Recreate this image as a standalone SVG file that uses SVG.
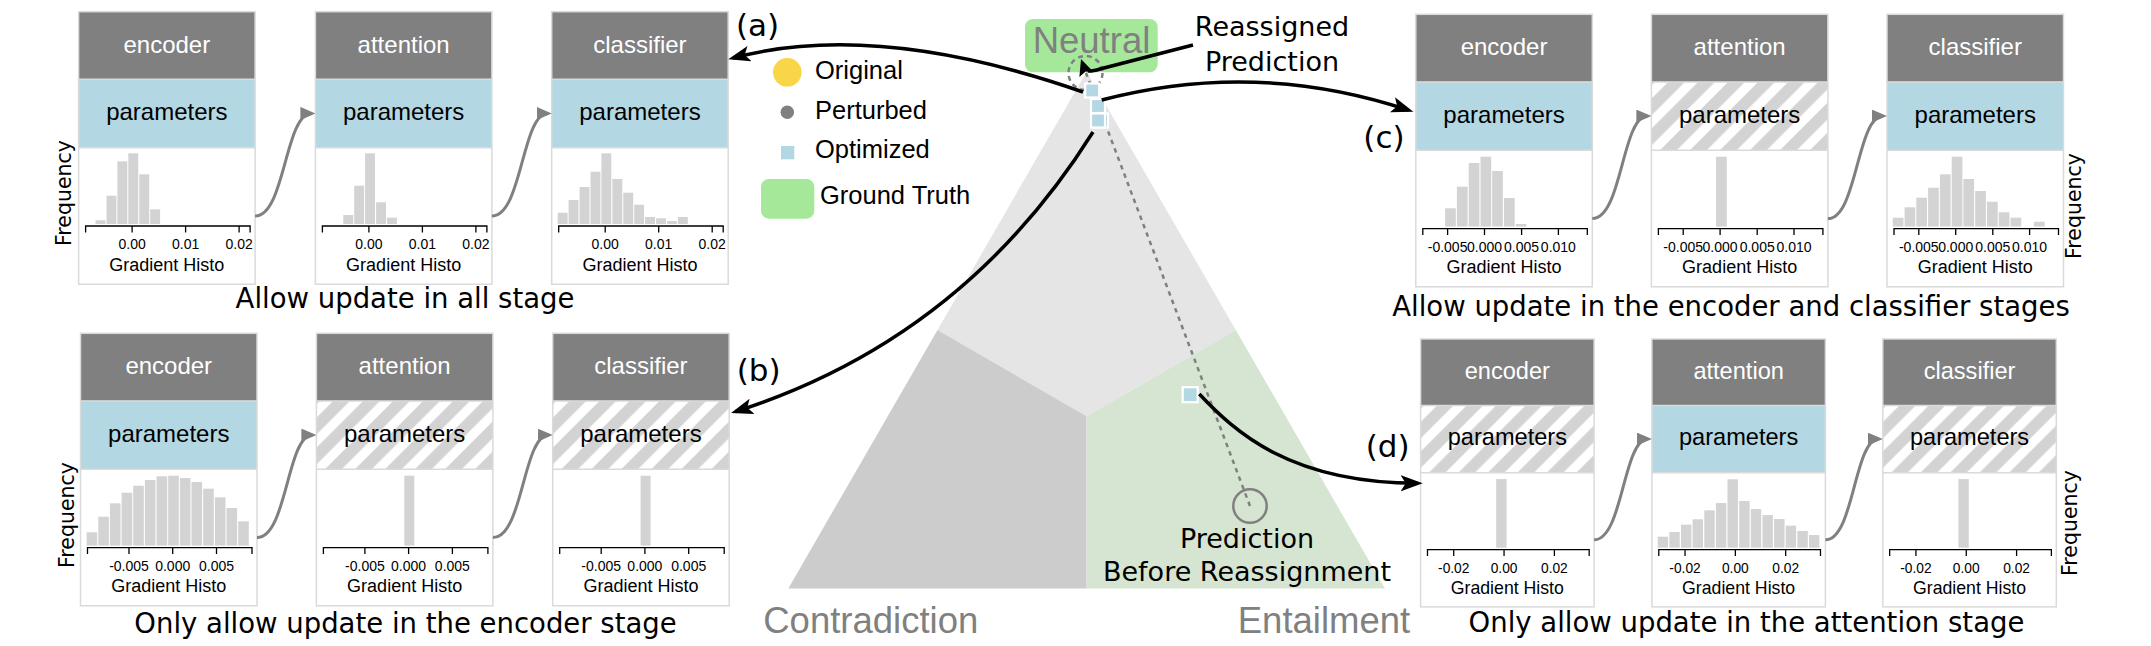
<svg xmlns="http://www.w3.org/2000/svg" width="2151" height="646" viewBox="0 0 2151 646">
<defs>
<style>
.hdr{fill:#808080}
.par{fill:#b3d7e3}
.hat{fill:url(#hatch)}
.hist{fill:#fff}
.frame{fill:none;stroke:#dadada;stroke-width:1.5}
.sep{stroke:#dadada;stroke-width:1.5}
.ht{font-family:"Liberation Sans",Arial,sans-serif;font-size:24px;fill:#fff;text-anchor:middle}
.pt{font-family:"Liberation Sans",Arial,sans-serif;font-size:24px;fill:#000;text-anchor:middle}
.bar{fill:#d3d3d3}
.ax{fill:none;stroke:#000;stroke-width:1.3}
.tl{font-family:"Liberation Sans",Arial,sans-serif;font-size:14px;fill:#000;text-anchor:middle}
.gh{font-family:"Liberation Sans",Arial,sans-serif;font-size:18px;fill:#000;text-anchor:middle}
.cap{font-family:"DejaVu Sans",sans-serif;font-size:27.5px;fill:#000;text-anchor:middle}
.freq{font-family:"DejaVu Sans",sans-serif;font-size:20.5px;fill:#000;text-anchor:middle}
.lab{font-family:"DejaVu Sans",sans-serif;font-size:31px;fill:#000}
.big{font-family:"Liberation Sans",Arial,sans-serif;font-size:36.5px;fill:#808080}
.leg{font-family:"Liberation Sans",Arial,sans-serif;font-size:25.5px;fill:#000}
.ann{font-family:"DejaVu Sans",sans-serif;font-size:27px;fill:#000;text-anchor:middle}
.conn{fill:none;stroke:#808080;stroke-width:3}
.arr{fill:none;stroke:#000;stroke-width:3.5}
.opt{fill:#b3d7e3;stroke:#fff;stroke-width:2.2}
</style>
<pattern id="hatch" patternUnits="userSpaceOnUse" width="21.21" height="21.21" patternTransform="rotate(45)">
<rect width="21.21" height="21.21" fill="#fff"/>
<rect x="17.32" width="3.89" height="21.21" fill="#d3d3d3"/>
<rect x="0" width="7.92" height="21.21" fill="#d3d3d3"/>
</pattern>
<marker id="ga" markerUnits="userSpaceOnUse" markerWidth="16" markerHeight="14" refX="11" refY="6.5" orient="auto">
<path d="M0,0L15,6.5L0,13z" fill="#808080"/>
</marker>
<marker id="ba" markerUnits="userSpaceOnUse" markerWidth="24" markerHeight="17" refX="17" refY="8" orient="auto">
<path d="M0,0L22,8L0,16L5,8z" fill="#000"/>
</marker>
</defs>

<rect width="2151" height="646" fill="#fff"/>

<!-- simplex triangle -->
<g id="triangle">
<polygon points="1086.65,71.7 1235.8,330.1 1086.65,416.2 937.5,330.1" fill="#e5e5e5"/>
<polygon points="937.5,330.1 1086.65,416.2 1086.65,588.5 788.3,588.5" fill="#cccccc"/>
<polygon points="1235.8,330.1 1385,588.5 1086.65,588.5 1086.65,416.2" fill="#d6e5d2"/>
</g>
<g id="label-neutral">
<rect x="1025" y="19" width="132.7" height="53.3" rx="8" fill="#a5e89a"/>
<text class="big" x="1091.5" y="53.3" text-anchor="middle">Neutral</text>
</g>
<text id="label-contradiction" class="big" x="870.8" y="633.3" text-anchor="middle">Contradiction</text>
<text id="label-entailment" class="big" x="1324" y="633.3" text-anchor="middle">Entailment</text>

<!-- prediction markers -->
<g id="trajectory">
<path d="M1250,506L1086,73" fill="none" stroke="#808080" stroke-width="2.5" stroke-dasharray="4.5,4.5"/>
</g>
<g id="original-position">
<circle cx="1085.5" cy="73" r="17" fill="none" stroke="#808080" stroke-width="2.5" stroke-dasharray="5,4"/>
</g>
<g id="before-reassignment">
<circle cx="1250" cy="506" r="16.7" fill="none" stroke="#808080" stroke-width="2.5"/>
<text class="ann" x="1247" y="548">Prediction</text>
<text class="ann" x="1247" y="580.7">Before Reassignment</text>
</g>
<g id="optimized-points">
<rect class="opt" x="1091" y="99" width="14" height="14"/>
<rect class="opt" x="1094" y="113.5" width="14" height="14"/>
<rect class="opt" x="1091" y="113.5" width="14" height="14"/>
<rect class="opt" x="1085.2" y="83.5" width="14" height="14"/>
<rect class="opt" x="1182.7" y="387.2" width="15" height="15" stroke-width="2.5"/>
</g>

<!-- legend -->
<g id="legend">
<circle cx="787.3" cy="72.3" r="14.3" fill="#f9d548"/>
<text class="leg" x="815" y="79.3">Original</text>
<circle cx="787.3" cy="112.3" r="6.7" fill="#808080"/>
<text class="leg" x="815" y="119">Perturbed</text>
<rect x="781" y="146" width="13.3" height="13.3" fill="#b3d7e3"/>
<text class="leg" x="815" y="158.3">Optimized</text>
<rect x="761" y="179" width="53.3" height="39.7" rx="8" fill="#a5e89a"/>
<text class="leg" x="820" y="204">Ground Truth</text>
</g>

<g id="annotation-reassigned">
<text class="ann" x="1272" y="35.5">Reassigned</text>
<text class="ann" x="1272" y="70.5">Prediction</text>
</g>

<!-- row (a) -->
<g id="card-a1" transform="translate(78.6,11.7)">
<rect class="hdr" width="176.5" height="67.6"/>
<rect class="par" y="67.6" width="176.5" height="68.4"/>
<rect class="hist" y="136" width="176.5" height="136.5"/>
<rect class="frame" width="176.5" height="272.5"/>
<line class="sep" x1="0" y1="67.6" x2="176.5" y2="67.6"/>
<line class="sep" x1="0" y1="136" x2="176.5" y2="136"/>
<text class="ht" x="88.25" y="41">encoder</text>
<text class="pt" x="88.25" y="108.3">parameters</text>
<rect class="bar" x="16.9" y="208.6" width="9.9" height="3.7"/>
<rect class="bar" x="27.9" y="184" width="9.9" height="28.3"/>
<rect class="bar" x="38.8" y="149.6" width="9.9" height="62.7"/>
<rect class="bar" x="49.7" y="141.6" width="9.9" height="70.7"/>
<rect class="bar" x="60.7" y="162.6" width="9.9" height="49.7"/>
<rect class="bar" x="71.6" y="197.6" width="9.9" height="14.7"/>
<path class="ax" d="M7,220.8V214.3H171.5V220.8M53.5,214.3V220.8M107,214.3V220.8M160.5,214.3V220.8"/>
<text class="tl" x="53.5" y="237.6">0.00</text>
<text class="tl" x="107" y="237.6">0.01</text>
<text class="tl" x="160.5" y="237.6">0.02</text>
<text class="gh" x="88.25" y="259">Gradient Histo</text>
</g>
<g id="card-a2" transform="translate(315.4,11.7)">
<rect class="hdr" width="176.5" height="67.6"/>
<rect class="par" y="67.6" width="176.5" height="68.4"/>
<rect class="hist" y="136" width="176.5" height="136.5"/>
<rect class="frame" width="176.5" height="272.5"/>
<line class="sep" x1="0" y1="67.6" x2="176.5" y2="67.6"/>
<line class="sep" x1="0" y1="136" x2="176.5" y2="136"/>
<text class="ht" x="88.25" y="41">attention</text>
<text class="pt" x="88.25" y="108.3">parameters</text>
<rect class="bar" x="27.9" y="203.3" width="9.9" height="9"/>
<rect class="bar" x="38.8" y="174" width="9.9" height="38.3"/>
<rect class="bar" x="49.7" y="141.6" width="9.9" height="70.7"/>
<rect class="bar" x="60.7" y="190.6" width="9.9" height="21.7"/>
<rect class="bar" x="71.6" y="206" width="9.9" height="6.3"/>
<path class="ax" d="M7,220.8V214.3H171.5V220.8M53.5,214.3V220.8M107,214.3V220.8M160.5,214.3V220.8"/>
<text class="tl" x="53.5" y="237.6">0.00</text>
<text class="tl" x="107" y="237.6">0.01</text>
<text class="tl" x="160.5" y="237.6">0.02</text>
<text class="gh" x="88.25" y="259">Gradient Histo</text>
</g>
<g id="card-a3" transform="translate(551.7,11.7)">
<rect class="hdr" width="176.5" height="67.6"/>
<rect class="par" y="67.6" width="176.5" height="68.4"/>
<rect class="hist" y="136" width="176.5" height="136.5"/>
<rect class="frame" width="176.5" height="272.5"/>
<line class="sep" x1="0" y1="67.6" x2="176.5" y2="67.6"/>
<line class="sep" x1="0" y1="136" x2="176.5" y2="136"/>
<text class="ht" x="88.25" y="41">classifier</text>
<text class="pt" x="88.25" y="108.3">parameters</text>
<rect class="bar" x="6" y="201" width="9.9" height="11.3"/>
<rect class="bar" x="16.9" y="188.3" width="9.9" height="24"/>
<rect class="bar" x="27.9" y="175.3" width="9.9" height="37"/>
<rect class="bar" x="38.8" y="160" width="9.9" height="52.3"/>
<rect class="bar" x="49.7" y="141.6" width="9.9" height="70.7"/>
<rect class="bar" x="60.7" y="167.3" width="9.9" height="45"/>
<rect class="bar" x="71.6" y="181" width="9.9" height="31.3"/>
<rect class="bar" x="82.5" y="193" width="9.9" height="19.3"/>
<rect class="bar" x="93.4" y="205.3" width="9.9" height="7"/>
<rect class="bar" x="104.4" y="206.6" width="9.9" height="5.7"/>
<rect class="bar" x="115.3" y="209.3" width="9.9" height="3"/>
<rect class="bar" x="126.2" y="205.3" width="9.9" height="7"/>
<path class="ax" d="M7,220.8V214.3H171.5V220.8M53.5,214.3V220.8M107,214.3V220.8M160.5,214.3V220.8"/>
<text class="tl" x="53.5" y="237.6">0.00</text>
<text class="tl" x="107" y="237.6">0.01</text>
<text class="tl" x="160.5" y="237.6">0.02</text>
<text class="gh" x="88.25" y="259">Gradient Histo</text>
</g>
<text class="freq" transform="translate(71,193) rotate(-90)">Frequency</text>
<text id="caption-a" class="cap" x="405" y="308.3">Allow update in all stage</text>
<text id="label-a" class="lab" x="736" y="35.5">(a)</text>

<!-- row (b) -->
<g id="card-b1" transform="translate(80.5,333.3)">
<rect class="hdr" width="176.5" height="67.6"/>
<rect class="par" y="67.6" width="176.5" height="68.4"/>
<rect class="hist" y="136" width="176.5" height="136.5"/>
<rect class="frame" width="176.5" height="272.5"/>
<line class="sep" x1="0" y1="67.6" x2="176.5" y2="67.6"/>
<line class="sep" x1="0" y1="136" x2="176.5" y2="136"/>
<text class="ht" x="88.25" y="41">encoder</text>
<text class="pt" x="88.25" y="108.3">parameters</text>
<rect class="bar" x="6.1" y="199" width="10.6" height="13.3"/>
<rect class="bar" x="17.8" y="183.4" width="10.6" height="28.9"/>
<rect class="bar" x="29.4" y="170" width="10.6" height="42.3"/>
<rect class="bar" x="41.1" y="159.4" width="10.6" height="52.9"/>
<rect class="bar" x="52.7" y="152.4" width="10.6" height="59.9"/>
<rect class="bar" x="64.4" y="146.7" width="10.6" height="65.6"/>
<rect class="bar" x="76.1" y="143" width="10.6" height="69.3"/>
<rect class="bar" x="87.7" y="142.4" width="10.6" height="69.9"/>
<rect class="bar" x="99.4" y="144.7" width="10.6" height="67.6"/>
<rect class="bar" x="111" y="148.7" width="10.6" height="63.6"/>
<rect class="bar" x="122.7" y="155.4" width="10.6" height="56.9"/>
<rect class="bar" x="134.4" y="164" width="10.6" height="48.3"/>
<rect class="bar" x="146" y="174.7" width="10.6" height="37.6"/>
<rect class="bar" x="157.7" y="188" width="10.6" height="24.3"/>
<path class="ax" d="M7,220.8V214.3H171.5V220.8M48.5,214.3V220.8M92.2,214.3V220.8M136,214.3V220.8"/>
<text class="tl" x="48.5" y="237.6">-0.005</text>
<text class="tl" x="92.2" y="237.6">0.000</text>
<text class="tl" x="136" y="237.6">0.005</text>
<text class="gh" x="88.25" y="259">Gradient Histo</text>
</g>
<g id="card-b2" transform="translate(316.4,333.3)">
<rect class="hdr" width="176.5" height="67.6"/>
<rect class="hat" y="67.6" width="176.5" height="68.4"/>
<rect class="hist" y="136" width="176.5" height="136.5"/>
<rect class="frame" width="176.5" height="272.5"/>
<line class="sep" x1="0" y1="67.6" x2="176.5" y2="67.6"/>
<line class="sep" x1="0" y1="136" x2="176.5" y2="136"/>
<text class="ht" x="88.25" y="41">attention</text>
<text class="pt" x="88.25" y="108.3">parameters</text>
<rect class="bar" x="87.9" y="142.4" width="10" height="69.9"/>
<path class="ax" d="M7,220.8V214.3H171.5V220.8M48.5,214.3V220.8M92.2,214.3V220.8M136,214.3V220.8"/>
<text class="tl" x="48.5" y="237.6">-0.005</text>
<text class="tl" x="92.2" y="237.6">0.000</text>
<text class="tl" x="136" y="237.6">0.005</text>
<text class="gh" x="88.25" y="259">Gradient Histo</text>
</g>
<g id="card-b3" transform="translate(552.7,333.3)">
<rect class="hdr" width="176.5" height="67.6"/>
<rect class="hat" y="67.6" width="176.5" height="68.4"/>
<rect class="hist" y="136" width="176.5" height="136.5"/>
<rect class="frame" width="176.5" height="272.5"/>
<line class="sep" x1="0" y1="67.6" x2="176.5" y2="67.6"/>
<line class="sep" x1="0" y1="136" x2="176.5" y2="136"/>
<text class="ht" x="88.25" y="41">classifier</text>
<text class="pt" x="88.25" y="108.3">parameters</text>
<rect class="bar" x="87.9" y="142.4" width="10" height="69.9"/>
<path class="ax" d="M7,220.8V214.3H171.5V220.8M48.5,214.3V220.8M92.2,214.3V220.8M136,214.3V220.8"/>
<text class="tl" x="48.5" y="237.6">-0.005</text>
<text class="tl" x="92.2" y="237.6">0.000</text>
<text class="tl" x="136" y="237.6">0.005</text>
<text class="gh" x="88.25" y="259">Gradient Histo</text>
</g>
<text class="freq" transform="translate(73.5,515) rotate(-90)">Frequency</text>
<text id="caption-b" class="cap" x="405.5" y="632.5">Only allow update in the encoder stage</text>
<text id="label-b" class="lab" x="736.7" y="381">(b)</text>

<!-- row (c) -->
<g id="card-c1" transform="translate(1415.8,14.3)">
<rect class="hdr" width="176.5" height="67.6"/>
<rect class="par" y="67.6" width="176.5" height="68.4"/>
<rect class="hist" y="136" width="176.5" height="136.5"/>
<rect class="frame" width="176.5" height="272.5"/>
<line class="sep" x1="0" y1="67.6" x2="176.5" y2="67.6"/>
<line class="sep" x1="0" y1="136" x2="176.5" y2="136"/>
<text class="ht" x="88.25" y="41">encoder</text>
<text class="pt" x="88.25" y="108.3">parameters</text>
<rect class="bar" x="29.3" y="194" width="10.7" height="18.3"/>
<rect class="bar" x="41.1" y="172.4" width="10.7" height="39.9"/>
<rect class="bar" x="52.9" y="148.7" width="10.7" height="63.6"/>
<rect class="bar" x="64.7" y="142.4" width="10.7" height="69.9"/>
<rect class="bar" x="76.4" y="156.7" width="10.7" height="55.6"/>
<rect class="bar" x="88.2" y="183.7" width="10.7" height="28.6"/>
<rect class="bar" x="100" y="209.7" width="10.7" height="2.6"/>
<path class="ax" d="M7,220.8V214.3H171.5V220.8M31.8,214.3V220.8M68.7,214.3V220.8M105.8,214.3V220.8M142.6,214.3V220.8"/>
<text class="tl" x="31.8" y="237.6">-0.005</text>
<text class="tl" x="68.7" y="237.6">0.000</text>
<text class="tl" x="105.8" y="237.6">0.005</text>
<text class="tl" x="142.6" y="237.6">0.010</text>
<text class="gh" x="88.25" y="259">Gradient Histo</text>
</g>
<g id="card-c2" transform="translate(1651.4,14.3)">
<rect class="hdr" width="176.5" height="67.6"/>
<rect class="hat" y="67.6" width="176.5" height="68.4"/>
<rect class="hist" y="136" width="176.5" height="136.5"/>
<rect class="frame" width="176.5" height="272.5"/>
<line class="sep" x1="0" y1="67.6" x2="176.5" y2="67.6"/>
<line class="sep" x1="0" y1="136" x2="176.5" y2="136"/>
<text class="ht" x="88.25" y="41">attention</text>
<text class="pt" x="88.25" y="108.3">parameters</text>
<rect class="bar" x="64.7" y="142.4" width="10.7" height="69.9"/>
<path class="ax" d="M7,220.8V214.3H171.5V220.8M31.8,214.3V220.8M68.7,214.3V220.8M105.8,214.3V220.8M142.6,214.3V220.8"/>
<text class="tl" x="31.8" y="237.6">-0.005</text>
<text class="tl" x="68.7" y="237.6">0.000</text>
<text class="tl" x="105.8" y="237.6">0.005</text>
<text class="tl" x="142.6" y="237.6">0.010</text>
<text class="gh" x="88.25" y="259">Gradient Histo</text>
</g>
<g id="card-c3" transform="translate(1887,14.3)">
<rect class="hdr" width="176.5" height="67.6"/>
<rect class="par" y="67.6" width="176.5" height="68.4"/>
<rect class="hist" y="136" width="176.5" height="136.5"/>
<rect class="frame" width="176.5" height="272.5"/>
<line class="sep" x1="0" y1="67.6" x2="176.5" y2="67.6"/>
<line class="sep" x1="0" y1="136" x2="176.5" y2="136"/>
<text class="ht" x="88.25" y="41">classifier</text>
<text class="pt" x="88.25" y="108.3">parameters</text>
<rect class="bar" x="5.8" y="203.4" width="10.7" height="8.9"/>
<rect class="bar" x="17.6" y="193" width="10.7" height="19.3"/>
<rect class="bar" x="29.3" y="183.4" width="10.7" height="28.9"/>
<rect class="bar" x="41.1" y="173.4" width="10.7" height="38.9"/>
<rect class="bar" x="52.9" y="160" width="10.7" height="52.3"/>
<rect class="bar" x="64.7" y="142.4" width="10.7" height="69.9"/>
<rect class="bar" x="76.4" y="164.7" width="10.7" height="47.6"/>
<rect class="bar" x="88.2" y="176.7" width="10.7" height="35.6"/>
<rect class="bar" x="100" y="187.4" width="10.7" height="24.9"/>
<rect class="bar" x="111.7" y="198" width="10.7" height="14.3"/>
<rect class="bar" x="123.5" y="203.4" width="10.7" height="8.9"/>
<rect class="bar" x="147" y="207.4" width="10.7" height="4.9"/>
<path class="ax" d="M7,220.8V214.3H171.5V220.8M31.8,214.3V220.8M68.7,214.3V220.8M105.8,214.3V220.8M142.6,214.3V220.8"/>
<text class="tl" x="31.8" y="237.6">-0.005</text>
<text class="tl" x="68.7" y="237.6">0.000</text>
<text class="tl" x="105.8" y="237.6">0.005</text>
<text class="tl" x="142.6" y="237.6">0.010</text>
<text class="gh" x="88.25" y="259">Gradient Histo</text>
</g>
<text class="freq" transform="translate(2081,206) rotate(-90)">Frequency</text>
<text id="caption-c" class="cap" x="1731" y="315.5">Allow update in the encoder and classifier stages</text>
<text id="label-c" class="lab" x="1363.3" y="148">(c)</text>

<!-- row (d) -->
<g id="card-d1" transform="translate(1420.6,339) scale(0.983)">
<rect class="hdr" width="176.5" height="67.6"/>
<rect class="hat" y="67.6" width="176.5" height="68.4"/>
<rect class="hist" y="136" width="176.5" height="136.5"/>
<rect class="frame" width="176.5" height="272.5"/>
<line class="sep" x1="0" y1="67.6" x2="176.5" y2="67.6"/>
<line class="sep" x1="0" y1="136" x2="176.5" y2="136"/>
<text class="ht" x="88.25" y="41">encoder</text>
<text class="pt" x="88.25" y="108.3">parameters</text>
<rect class="bar" x="76.9" y="142.5" width="10.6" height="69.8"/>
<path class="ax" d="M7,220.8V214.3H171.5V220.8M33.7,214.3V220.8M84.9,214.3V220.8M136.1,214.3V220.8"/>
<text class="tl" x="33.7" y="237.6">-0.02</text>
<text class="tl" x="84.9" y="237.6">0.00</text>
<text class="tl" x="136.1" y="237.6">0.02</text>
<text class="gh" x="88.25" y="259">Gradient Histo</text>
</g>
<g id="card-d2" transform="translate(1651.9,339) scale(0.983)">
<rect class="hdr" width="176.5" height="67.6"/>
<rect class="par" y="67.6" width="176.5" height="68.4"/>
<rect class="hist" y="136" width="176.5" height="136.5"/>
<rect class="frame" width="176.5" height="272.5"/>
<line class="sep" x1="0" y1="67.6" x2="176.5" y2="67.6"/>
<line class="sep" x1="0" y1="136" x2="176.5" y2="136"/>
<text class="ht" x="88.25" y="41">attention</text>
<text class="pt" x="88.25" y="108.3">parameters</text>
<rect class="bar" x="5.9" y="201.1" width="10.6" height="11.2"/>
<rect class="bar" x="17.7" y="196.3" width="10.6" height="16"/>
<rect class="bar" x="29.6" y="188.9" width="10.6" height="23.4"/>
<rect class="bar" x="41.4" y="183.4" width="10.6" height="28.9"/>
<rect class="bar" x="53.3" y="174.3" width="10.6" height="38"/>
<rect class="bar" x="65.1" y="166.9" width="10.6" height="45.4"/>
<rect class="bar" x="76.9" y="142.7" width="10.6" height="69.6"/>
<rect class="bar" x="88.8" y="164.8" width="10.6" height="47.5"/>
<rect class="bar" x="100.6" y="173" width="10.6" height="39.3"/>
<rect class="bar" x="112.5" y="179.1" width="10.6" height="33.2"/>
<rect class="bar" x="124.3" y="183.1" width="10.6" height="29.2"/>
<rect class="bar" x="136.1" y="189.9" width="10.6" height="22.4"/>
<rect class="bar" x="148" y="195.3" width="10.6" height="17"/>
<rect class="bar" x="159.8" y="199.4" width="10.6" height="12.9"/>
<path class="ax" d="M7,220.8V214.3H171.5V220.8M33.7,214.3V220.8M84.9,214.3V220.8M136.1,214.3V220.8"/>
<text class="tl" x="33.7" y="237.6">-0.02</text>
<text class="tl" x="84.9" y="237.6">0.00</text>
<text class="tl" x="136.1" y="237.6">0.02</text>
<text class="gh" x="88.25" y="259">Gradient Histo</text>
</g>
<g id="card-d3" transform="translate(1882.8,339) scale(0.983)">
<rect class="hdr" width="176.5" height="67.6"/>
<rect class="hat" y="67.6" width="176.5" height="68.4"/>
<rect class="hist" y="136" width="176.5" height="136.5"/>
<rect class="frame" width="176.5" height="272.5"/>
<line class="sep" x1="0" y1="67.6" x2="176.5" y2="67.6"/>
<line class="sep" x1="0" y1="136" x2="176.5" y2="136"/>
<text class="ht" x="88.25" y="41">classifier</text>
<text class="pt" x="88.25" y="108.3">parameters</text>
<rect class="bar" x="76.9" y="142.5" width="10.6" height="69.8"/>
<path class="ax" d="M7,220.8V214.3H171.5V220.8M33.7,214.3V220.8M84.9,214.3V220.8M136.1,214.3V220.8"/>
<text class="tl" x="33.7" y="237.6">-0.02</text>
<text class="tl" x="84.9" y="237.6">0.00</text>
<text class="tl" x="136.1" y="237.6">0.02</text>
<text class="gh" x="88.25" y="259">Gradient Histo</text>
</g>
<text class="freq" transform="translate(2077,523) rotate(-90)">Frequency</text>
<text id="caption-d" class="cap" x="1746.5" y="631.7">Only allow update in the attention stage</text>
<text id="label-d" class="lab" x="1365.7" y="456.5">(d)</text>

<!-- connectors -->
<g id="connectors">
<path class="conn" marker-end="url(#ga)" d="M255.1,216C285,216 285,113.4 311.4,113.4"/>
<path class="conn" marker-end="url(#ga)" d="M491.9,216C522,216 522,113.4 547.7,113.4"/>
<path class="conn" marker-end="url(#ga)" d="M257,537.6C287,537.6 287,435.1 312.4,435.1"/>
<path class="conn" marker-end="url(#ga)" d="M492.9,537.6C523,537.6 523,435.1 548.7,435.1"/>
<path class="conn" marker-end="url(#ga)" d="M1592.3,218.6C1622,218.6 1622,116.1 1647.4,116.1"/>
<path class="conn" marker-end="url(#ga)" d="M1827.9,218.6C1857,218.6 1857,116.1 1883,116.1"/>
<path class="conn" marker-end="url(#ga)" d="M1594.1,539.8C1623,539.8 1623,439.1 1647.9,439.1"/>
<path class="conn" marker-end="url(#ga)" d="M1825.4,539.8C1854,539.8 1854,439.1 1878.8,439.1"/>
<path class="arr" marker-end="url(#ba)" d="M1083,92Q876,20 733.1,58"/>
<path class="arr" marker-end="url(#ba)" d="M1093,132Q963,339 735.8,411.5"/>
<path class="arr" marker-end="url(#ba)" d="M1101.7,100Q1256.2,59.4 1408.6,110.1"/>
<path class="arr" marker-end="url(#ba)" d="M1199.3,394C1235,432 1290,483 1417.7,483.3"/>
<path class="arr" d="M1193,45L1100,69Q1092,71.5 1088,71"/>
<polygon points="1081,59 1093.6,72 1085.5,71.5 1079.4,77" fill="#000"/>
</g>
</svg>
